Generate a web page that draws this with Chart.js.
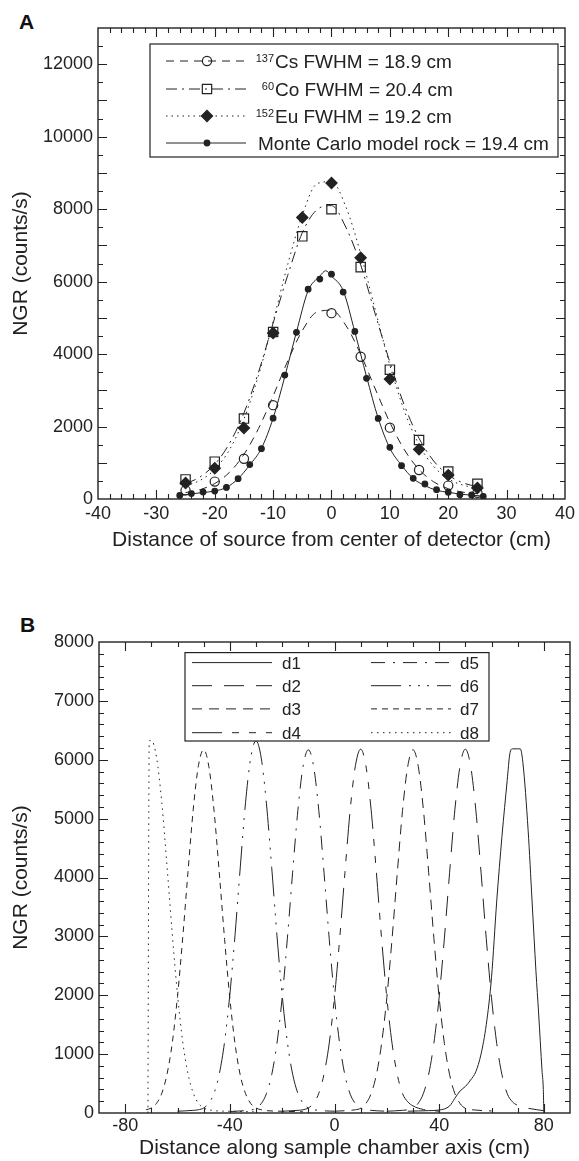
<!DOCTYPE html>
<html>
<head>
<meta charset="utf-8">
<script src="https://cdn.jsdelivr.net/npm/chart.js@4.4.0/dist/chart.umd.min.js"></script>
<style>
	body { margin: 0; background: #fff; width: 579px; height: 1161px; position: relative; overflow: hidden; }
	canvas { position: absolute; left: 0; }
	#chart_a { top: 0; }
	#chart_b { top: 580px; }
	.tag { position: absolute; font: bold 21px "Liberation Sans", Arial, sans-serif; color: #111; }
</style>
</head>
<body>
<div class="tag" style="left:19px;top:10px">A</div>
<div class="tag" style="left:20px;top:613px">B</div>
<canvas id="chart_a" width="579" height="565"></canvas>
<canvas id="chart_b" width="579" height="581"></canvas>
<script>
const FONT = '"Liberation Sans", Arial, Helvetica, sans-serif';
const INK = "#222";

// ---- panel A: point sources and the Monte Carlo model
const cs_x = [-25, -20, -15, -10, 0, 5, 10, 15, 20, 25];
const cs_y = [240, 480, 1110, 2590, 5130, 3925, 1970, 800, 370, 170];
const co_x = [-25, -20, -15, -10, -5, 0, 5, 10, 15, 20, 25];
const co_y = [540, 1030, 2220, 4610, 7250, 8000, 6400, 3570, 1630, 760, 420];
const eu_x = [-25, -20, -15, -10, -5, 0, 5, 10, 15, 20, 25];
const eu_y = [440, 850, 1960, 4580, 7770, 8720, 6660, 3310, 1370, 660, 305];
const mc_x = [-26, -24, -22, -20, -18, -16, -14, -12, -10, -8, -6, -4, -2, 0, 2, 4, 6, 8, 10, 12, 14, 16, 18, 20, 22, 24, 26];
const mc_y = [100, 150, 190, 220, 320, 560, 950, 1390, 2230, 3420, 4600, 5790, 6070, 6205, 5710, 4625, 3330, 2225, 1425, 920, 570, 414, 257, 184, 120, 110, 74];

// fitted curves
const fit_x = [-25, -22.5, -20, -17.5, -15, -12.5, -10, -7.5, -5, -2.5, 0, 2.5, 5, 7.5, 10, 12.5, 15, 17.5, 20, 22.5, 25];
const cs_fit = [177, 259, 426, 732, 1230, 1946, 2844, 3808, 4647, 5161, 5210, 4782, 3993, 3038, 2113, 1355, 814, 474, 284, 189, 146];
const co_fit = [419, 610, 957, 1528, 2375, 3501, 4853, 6173, 7350, 7983, 8098, 7485, 6464, 5100, 3776, 2579, 1675, 1051, 665, 448, 337];
const eu_fit = [362, 514, 817, 1354, 2209, 3413, 4900, 6473, 7834, 8700, 8760, 8048, 6772, 5217, 3692, 2423, 1497, 902, 560, 384, 303];
const mc_fit_x = [-26, -24, -22, -20, -18, -16, -14, -12, -10, -8, -6, -4, -2, -1, 0, 2, 4, 6, 8, 10, 12, 14, 16, 18, 20, 22, 24, 26];
const mc_fit_y = [95, 140, 180, 220, 320, 560, 940, 1400, 2230, 3380, 4610, 5750, 6150, 6300, 6150, 5750, 4610, 3380, 2230, 1400, 930, 565, 370, 240, 185, 135, 105, 80];

const ticks_a_x = [-40, -30, -20, -10, 0, 10, 20, 30, 40];
const ticks_a_y = [0, 2000, 4000, 6000, 8000, 10000, 12000];
const legend_a_sup = ["137", "60", "152", ""];
const legend_a_text = ["Cs FWHM = 18.9 cm", "Co FWHM = 20.4 cm", "Eu FWHM = 19.2 cm", "Monte Carlo model rock = 19.4 cm"];

// ---- panel B: detector responses along the chamber axis
const names_b = ["d1", "d2", "d3", "d4", "d5", "d6", "d7", "d8"];
const d1_x = [28, 32, 36, 40, 44, 46, 48, 50, 52, 54, 56, 58, 60, 62, 64, 66, 67, 68, 70, 71, 72, 74, 75.5, 77, 78, 79.3, 79.8, 80];
const d1_y = [30, 35, 40, 50, 120, 250, 375, 450, 560, 700, 1000, 1500, 2300, 3600, 4700, 5650, 6100, 6185, 6185, 6185, 5950, 4800, 3600, 2400, 1700, 725, 400, 0];
const d2_x = [20, 26, 28, 30, 32, 34, 36, 38, 40, 42, 44, 46, 48, 50, 52, 54, 56, 58, 60, 62, 64, 66, 68, 70, 74, 80];
const d2_y = [30, 45, 55, 85, 165, 335, 660, 1190, 1970, 2970, 4090, 5150, 5900, 6180, 5900, 5150, 4090, 2960, 1960, 1180, 650, 330, 190, 130, 80, 40];
const d3_x = [0, 6, 8, 10, 12, 14, 16, 18, 20, 22, 24, 26, 28, 30, 32, 34, 36, 38, 40, 42, 44, 46, 48, 50, 54, 60];
const d3_y = [30, 45, 55, 80, 160, 330, 650, 1180, 1960, 2960, 4080, 5140, 5890, 6170, 5890, 5140, 4080, 2960, 1960, 1180, 650, 330, 160, 80, 50, 35];
const d4_x = [-20, -14, -12, -10, -8, -6, -4, -2, 0, 2, 4, 6, 8, 10, 12, 14, 16, 18, 20, 22, 24, 26, 28, 30, 34, 40];
const d4_y = [30, 45, 55, 85, 165, 335, 660, 1190, 1970, 2970, 4090, 5150, 5900, 6180, 5900, 5150, 4090, 2960, 1960, 1180, 650, 330, 190, 120, 60, 30];
const d5_x = [-40, -34, -32, -30, -28, -26, -24, -22, -20, -18, -16, -14, -12, -10, -8, -6, -4, -2, 0, 2, 4, 6, 8, 10, 14, 20];
const d5_y = [25, 40, 50, 80, 160, 330, 650, 1180, 1960, 2970, 4090, 5140, 5890, 6170, 5890, 5140, 4080, 2950, 1950, 1170, 640, 320, 160, 80, 45, 30];
const d6_x = [-60, -54, -52, -50, -48, -46, -44, -42, -40, -38, -36, -34, -32, -30, -28, -26, -24, -22, -20, -18, -16, -14, -12, -10, -6, 0];
const d6_y = [30, 45, 55, 85, 170, 340, 670, 1210, 2010, 3030, 4180, 5270, 6040, 6320, 6030, 5250, 4170, 3020, 2000, 1200, 660, 335, 165, 85, 45, 30];
const d7_x = [-72, -70, -68, -66, -64, -62, -60, -58, -56, -54, -52, -50, -48, -46, -44, -42, -40, -38, -36, -34, -32, -30, -28, -26, -20, -12];
const d7_y = [55, 85, 165, 335, 660, 1190, 1980, 2980, 4090, 5150, 5900, 6170, 5880, 5120, 4060, 2950, 1950, 1170, 640, 330, 160, 85, 55, 40, 30, 20];
const d8_x = [-71.3, -70.8, -70, -68, -66, -64, -62, -60, -58, -56, -54, -52, -50, -48, -46, -40, -30];
const d8_y = [0, 6320, 6330, 6040, 5270, 4190, 3040, 2010, 1210, 670, 340, 165, 85, 55, 40, 30, 20];

const ticks_b_x = [-80, -40, 0, 40, 80];
const ticks_b_y = [0, 1000, 2000, 3000, 4000, 5000, 6000, 7000, 8000];

const dash_b = [[], [20, 12], [10, 7], [30, 10, 7, 10, 7, 10], [14, 8, 2, 8], [30, 8, 2, 7, 2, 7, 2, 8], [6, 5], [1.5, 4.5]];

function pts(xs, ys) {
	return xs.map((x, i) => ({ x: x, y: ys[i] }));
}

function line_ds(label, xs, ys, dash) {
	return {
		label: label,
		data: pts(xs, ys),
		showLine: true,
		borderColor: INK,
		borderWidth: 1,
		borderDash: dash,
		pointRadius: 0,
		cubicInterpolationMode: "monotone",
		fill: false,
	};
}

function mark_ds(label, xs, ys, style, r, bg) {
	return {
		label: label,
		data: pts(xs, ys),
		showLine: false,
		pointStyle: style,
		pointRadius: r,
		pointBackgroundColor: bg,
		pointBorderColor: INK,
		pointBorderWidth: 1.2,
	};
}

function x_axis(min, max, ticks, title, tick_pad, title_pad, height) {
	return {
		type: "linear",
		min: min,
		max: max,
		afterBuildTicks: (s) => { s.ticks = ticks.map((v) => ({ value: v })); },
		afterFit: (s) => { s.height = height; },
		grid: { display: false, drawTicks: false },
		border: { display: false },
		ticks: { font: { family: FONT, size: 18 }, color: INK, padding: tick_pad, maxRotation: 0, autoSkip: false, callback: (v) => String(v) },
		title: { display: true, text: title, font: { family: FONT, size: 21 }, color: INK, padding: { top: 0, bottom: title_pad } },
	};
}

function y_axis(min, max, ticks, width) {
	return {
		type: "linear",
		min: min,
		max: max,
		afterBuildTicks: (s) => { s.ticks = ticks.map((v) => ({ value: v })); },
		afterFit: (s) => { s.width = width; },
		grid: { display: false, drawTicks: false },
		border: { display: false },
		ticks: { font: { family: FONT, size: 18 }, color: INK, padding: 5, autoSkip: false, callback: (v) => String(v) },
		title: { display: true, text: "NGR (counts/s)", font: { family: FONT, size: 21 }, color: INK, padding: { top: 9, bottom: 0 } },
	};
}

// box round the plot with inward ticks on all four sides
const frame_ticks = {
	id: "frame_ticks",
	afterDatasetsDraw(chart, args, o) {
		const { ctx, chartArea: a } = chart;
		const sx = chart.scales.x, sy = chart.scales.y;
		const is_major = (v, m) => Math.abs(v / m - Math.round(v / m)) < 1e-6;
		ctx.save();
		ctx.strokeStyle = INK;
		ctx.lineWidth = 1.1;
		ctx.beginPath();
		const nx = Math.round((sx.max - sx.min) / o.x_minor);
		for (let i = 1; i < nx; i++) {
			const v = sx.min + i * o.x_minor;
			const len = is_major(v, o.x_major) ? 9 : 5;
			const p = Math.round(sx.getPixelForValue(v)) + 0.5;
			ctx.moveTo(p, a.bottom); ctx.lineTo(p, a.bottom - len);
			ctx.moveTo(p, a.top); ctx.lineTo(p, a.top + len);
		}
		const ny = Math.round((sy.max - sy.min) / o.y_minor);
		for (let i = 1; i < ny; i++) {
			const v = sy.min + i * o.y_minor;
			const len = is_major(v, o.y_major) ? 9 : 5;
			const p = Math.round(sy.getPixelForValue(v)) + 0.5;
			ctx.moveTo(a.left, p); ctx.lineTo(a.left + len, p);
			ctx.moveTo(a.right, p); ctx.lineTo(a.right - len, p);
		}
		ctx.stroke();
		ctx.lineWidth = 1.4;
		ctx.strokeRect(a.left, a.top, a.right - a.left, a.bottom - a.top);
		ctx.restore();
	},
};

// legend of panel A: line sample with its marker, superscript mass number, text
const legend_a = {
	id: "legend_a",
	afterDraw(chart, args, o) {
		const ctx = chart.ctx;
		const [l, t, r, b] = o.box;
		ctx.save();
		ctx.fillStyle = "#fff";
		ctx.fillRect(l, t, r - l, b - t);
		ctx.strokeStyle = INK;
		ctx.lineWidth = 1.2;
		ctx.strokeRect(l, t, r - l, b - t);
		o.rows.forEach((row, i) => {
			const y = o.row_y[i];
			const line = chart.data.datasets[row.line];
			const mark = chart.data.datasets[row.mark];
			ctx.strokeStyle = INK;
			ctx.lineWidth = 1;
			ctx.setLineDash(line.borderDash);
			ctx.beginPath();
			ctx.moveTo(o.x0, y);
			ctx.lineTo(o.x1, y);
			ctx.stroke();
			ctx.setLineDash([]);
			ctx.fillStyle = mark.pointBackgroundColor;
			ctx.lineWidth = mark.pointBorderWidth;
			Chart.helpers.drawPoint(ctx, { pointStyle: mark.pointStyle, radius: mark.pointRadius, borderWidth: mark.pointBorderWidth, rotation: 0 }, (o.x0 + o.x1) / 2 + 1, y);
			ctx.fillStyle = INK;
			ctx.textBaseline = "alphabetic";
			if (legend_a_sup[i]) {
				ctx.font = "11px " + FONT;
				ctx.textAlign = "right";
				ctx.fillText(legend_a_sup[i], o.sup_x, y + 1);
				ctx.font = "19px " + FONT;
				ctx.textAlign = "left";
				ctx.fillText(legend_a_text[i], o.sup_x + 1, y + 7);
			} else {
				ctx.font = "19px " + FONT;
				ctx.textAlign = "left";
				ctx.fillText(legend_a_text[i], o.text_x, y + 7);
			}
		});
		ctx.restore();
	},
};

// legend of panel B: two columns of line samples
const legend_b = {
	id: "legend_b",
	afterDraw(chart, args, o) {
		const ctx = chart.ctx;
		const [l, t, r, b] = o.box;
		ctx.save();
		ctx.fillStyle = "#fff";
		ctx.fillRect(l, t, r - l, b - t);
		ctx.strokeStyle = INK;
		ctx.lineWidth = 1.2;
		ctx.strokeRect(l, t, r - l, b - t);
		chart.data.datasets.forEach((ds, i) => {
			const col = Math.floor(i / 4);
			const y = o.row_y[i % 4];
			ctx.strokeStyle = INK;
			ctx.lineWidth = 1;
			ctx.setLineDash(ds.borderDash);
			ctx.beginPath();
			ctx.moveTo(o.cols[col][0], y);
			ctx.lineTo(o.cols[col][1], y);
			ctx.stroke();
			ctx.setLineDash([]);
			ctx.fillStyle = INK;
			ctx.font = "17px " + FONT;
			ctx.textAlign = "left";
			ctx.textBaseline = "alphabetic";
			ctx.fillText(ds.label, o.cols[col][2], y + 6);
		});
		ctx.restore();
	},
};

const base_options = {
	responsive: false,
	animation: false,
	events: [],
	plugins: { legend: { display: false }, tooltip: { enabled: false } },
};

new Chart(document.getElementById("chart_a"), {
	type: "scatter",
	data: {
		datasets: [
			line_ds("Cs fit", fit_x, cs_fit, [8, 6]),
			line_ds("Co fit", fit_x, co_fit, [11, 5, 2, 5]),
			line_ds("Eu fit", fit_x, eu_fit, [1.5, 4]),
			line_ds("MC fit", mc_fit_x, mc_fit_y, []),
			mark_ds("Cs", cs_x, cs_y, "circle", 4.6, "rgba(0,0,0,0)"),
			mark_ds("Co", co_x, co_y, "rect", 6.6, "rgba(0,0,0,0)"),
			mark_ds("Eu", eu_x, eu_y, "rectRot", 5.6, INK),
			mark_ds("MC", mc_x, mc_y, "circle", 2.8, INK),
		],
	},
	options: {
		...base_options,
		layout: { autoPadding: false, padding: { left: 0, right: 10, top: 28, bottom: 0 } },
		scales: {
			x: x_axis(-40, 40, ticks_a_x, "Distance of source from center of detector (cm)", 4, 12, 66),
			y: y_axis(0, 13000, ticks_a_y, 98),
		},
		plugins: {
			...base_options.plugins,
			frame_ticks: { x_minor: 2, x_major: 10, y_minor: 500, y_major: 1000 },
			legend_a: {
				box: [150, 44, 558, 157],
				row_y: [61, 89, 116, 143],
				x0: 166,
				x1: 246,
				sup_x: 274,
				text_x: 258,
				rows: [{ line: 0, mark: 4 }, { line: 1, mark: 5 }, { line: 2, mark: 6 }, { line: 3, mark: 7 }],
			},
		},
	},
	plugins: [frame_ticks, legend_a],
});

const b_x = [d1_x, d2_x, d3_x, d4_x, d5_x, d6_x, d7_x, d8_x];
const b_y = [d1_y, d2_y, d3_y, d4_y, d5_y, d6_y, d7_y, d8_y];

new Chart(document.getElementById("chart_b"), {
	type: "scatter",
	data: {
		datasets: names_b.map((n, i) => line_ds(n, b_x[i], b_y[i], dash_b[i])),
	},
	options: {
		...base_options,
		layout: { autoPadding: false, padding: { left: 0, right: 9, top: 62, bottom: 0 } },
		scales: {
			x: x_axis(-90, 90, ticks_b_x, "Distance along sample chamber axis (cm)", 2, 0, 48),
			y: y_axis(0, 8000, ticks_b_y, 99),
		},
		plugins: {
			...base_options.plugins,
			frame_ticks: { x_minor: 10, x_major: 40, y_minor: 200, y_major: 1000 },
			legend_b: {
				box: [185, 72.6, 489, 161],
				row_y: [82.6, 105.7, 128.9, 152.7],
				cols: [[192, 272, 282], [371, 451, 460]],
			},
		},
	},
	plugins: [frame_ticks, legend_b],
});
</script>
</body>
</html>
